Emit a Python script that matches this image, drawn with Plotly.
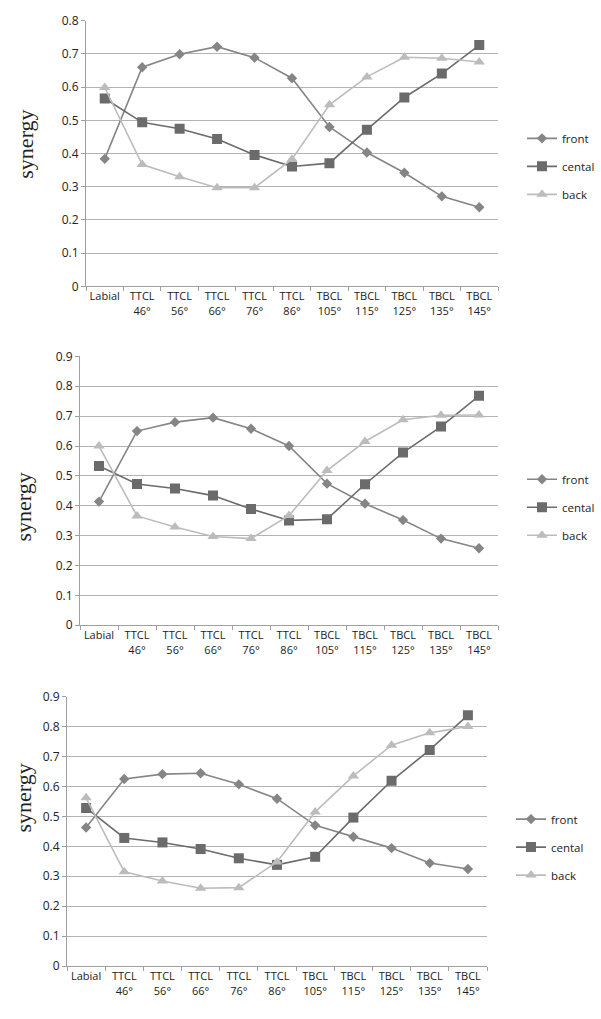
import plotly.graph_objects as go

categories = ["Labial", "TTCL<br>46°", "TTCL<br>56°", "TTCL<br>66°", "TTCL<br>76°", "TTCL<br>86°",
              "TBCL<br>105°", "TBCL<br>115°", "TBCL<br>125°", "TBCL<br>135°", "TBCL<br>145°"]

# Panel 1
front_1 = [0.384, 0.660, 0.699, 0.722, 0.689, 0.627, 0.480, 0.403, 0.342, 0.271, 0.238]
cental_1 = [0.566, 0.494, 0.475, 0.444, 0.396, 0.361, 0.371, 0.472, 0.569, 0.641, 0.727]
back_1 = [0.599, 0.367, 0.330, 0.297, 0.297, 0.383, 0.547, 0.631, 0.690, 0.687, 0.676]

# Panel 2
front_2 = [0.414, 0.650, 0.680, 0.695, 0.658, 0.600, 0.474, 0.407, 0.352, 0.290, 0.258]
cental_2 = [0.533, 0.473, 0.458, 0.434, 0.389, 0.351, 0.355, 0.472, 0.578, 0.665, 0.768]
back_2 = [0.600, 0.366, 0.329, 0.297, 0.290, 0.367, 0.518, 0.615, 0.688, 0.703, 0.704]

# Panel 3
front_3 = [0.463, 0.625, 0.641, 0.644, 0.607, 0.559, 0.470, 0.432, 0.394, 0.344, 0.324]
cental_3 = [0.528, 0.428, 0.413, 0.391, 0.360, 0.338, 0.365, 0.496, 0.619, 0.722, 0.838]
back_3 = [0.562, 0.315, 0.284, 0.260, 0.262, 0.348, 0.515, 0.635, 0.738, 0.779, 0.800]

series_names = ["front", "cental", "back"]
y_ranges = [0.8, 0.9, 0.9]

W, H = 601, 1019
COL_FRONT = "#858585"
COL_CENTAL = "#6b6b6b"
COL_BACK = "#bcbcbc"
GRID = "#b3b3b3"
TXT = "#222222"
XTICKFONT = dict(family="Open Sans", size=11, color=TXT)
YTICKFONT = dict(family="Open Sans", size=12, color=TXT)

# pixel boxes (left, right, top, bottom)
boxes = [(86, 498, 12, 282), (80, 498, 353.3, 626.7), (67, 487, 699.3, 973.3)]
legend_pos = [(522, 160), (522, 506.7), (511, 852.3)]
title_pos = [(26, 138), (24, 507), (24, 803)]

panels = [(front_1, cental_1, back_1), (front_2, cental_2, back_2), (front_3, cental_3, back_3)]

fig = go.Figure()
styles = [
    dict(color=COL_FRONT, symbol="diamond", size=8),
    dict(color=COL_CENTAL, symbol="square", size=10),
    dict(color=COL_BACK, symbol="triangle-up", size=10),
]

layout = dict(width=W, height=H, margin=dict(l=0, r=0, t=0, b=0),
              plot_bgcolor="white", paper_bgcolor="white", annotations=[])

for i, (data, (l, r, t, b)) in enumerate(zip(panels, boxes)):
    n = i + 1
    xa = "xaxis" if n == 1 else f"xaxis{n}"
    ya = "yaxis" if n == 1 else f"yaxis{n}"
    xref = "x" if n == 1 else f"x{n}"
    yref = "y" if n == 1 else f"y{n}"
    leg = "legend" if n == 1 else f"legend{n}"
    for name, vals, st in zip(series_names, data, styles):
        fig.add_trace(go.Scatter(
            x=list(range(len(categories))), y=vals, name=name, mode="lines+markers",
            line=dict(color=st["color"], width=1.6),
            marker=dict(color=st["color"], symbol=st["symbol"], size=st["size"], line=dict(width=0)),
            xaxis=xref, yaxis=yref, legend=leg, legendgroup=f"{name}{n}",
        ))
    layout[xa] = dict(
        domain=[l / W, r / W], anchor=yref, range=[-0.5, len(categories) - 0.5],
        tickmode="array", tickvals=list(range(len(categories))), ticktext=categories,
        showgrid=False, zeroline=False, showline=True, linecolor="#a0a0a0", linewidth=1,
        ticks="", tickfont=XTICKFONT, fixedrange=True,
        minor=dict(tickmode="array", tickvals=[k - 0.5 for k in range(len(categories) + 1)],
                   ticks="outside", ticklen=4, tickcolor="#a0a0a0", showgrid=False),
    )
    layout[ya] = dict(
        domain=[1 - b / H, 1 - t / H], anchor=xref, range=[0, y_ranges[i]],
        dtick=0.1, tick0=0, tickformat="~g", showgrid=True, gridcolor=GRID, gridwidth=1.3,
        zeroline=False, showline=True, linecolor="#a0a0a0", linewidth=1,
        ticks="outside", ticklen=4, tickcolor="#a0a0a0", tickfont=YTICKFONT, fixedrange=True,
    )
    lx, ly = legend_pos[i]
    layout[leg] = dict(x=lx / W, y=1 - ly / H, xanchor="left", yanchor="middle",
                       font=dict(family="Open Sans", size=11.5, color=TXT),
                       bgcolor="rgba(0,0,0,0)", tracegroupgap=9, itemwidth=30)
    tx, ty = title_pos[i]
    layout["annotations"].append(dict(
        text="synergy", x=tx / W, y=1 - ty / H, xref="paper", yref="paper",
        textangle=-90, showarrow=False, xanchor="center", yanchor="middle",
        font=dict(family="Liberation Serif", size=22, color=TXT),
    ))

fig.update_layout(**layout)
fig.write_html("out.html", config={"displayModeBar": False},
               post_script="document.body.style.margin='0';document.body.style.overflow='hidden';")
